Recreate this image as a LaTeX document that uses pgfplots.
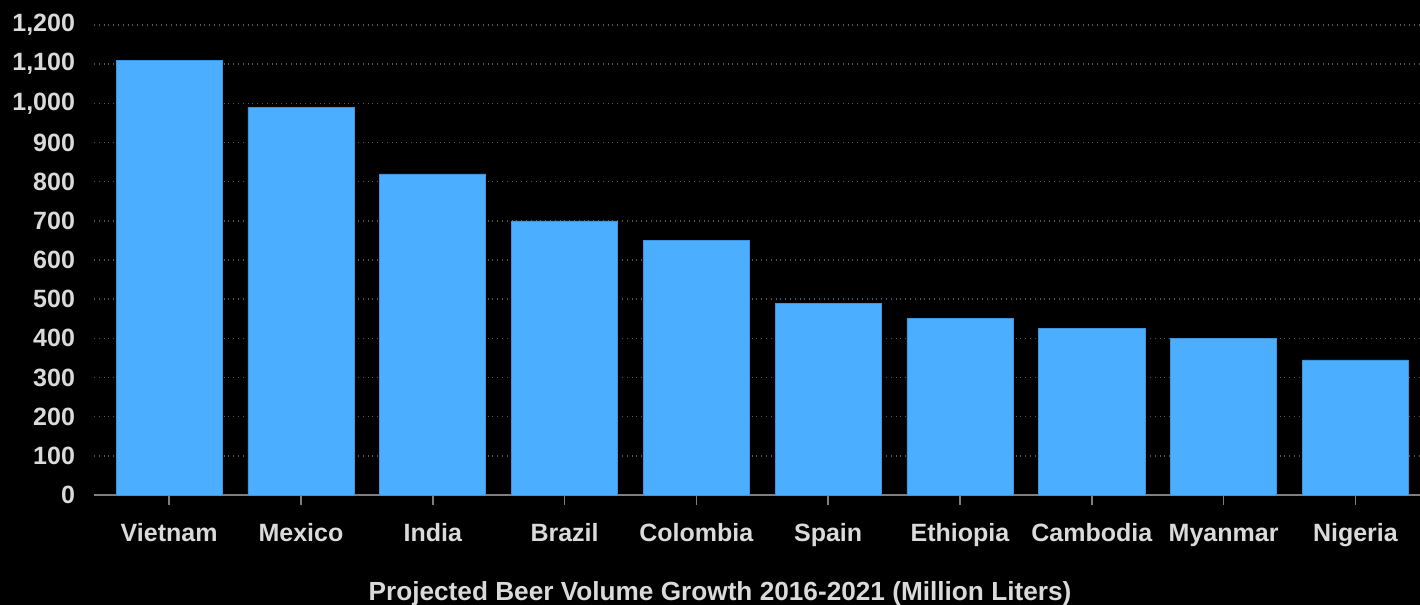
\documentclass[border=0pt]{standalone}
\usepackage{pgfplots}
\pgfplotsset{compat=1.18}
\usepackage{fontspec}
\setmainfont{Liberation Sans}
\definecolor{barblue}{HTML}{4BAEFF}
\definecolor{txt}{HTML}{DADADA}
\definecolor{gridc}{HTML}{555555}
\definecolor{axc}{HTML}{7F7F7F}
\begin{document}
\begin{tikzpicture}
\useasboundingbox (0,0) rectangle (710pt,302.5pt);
\fill[black] (0,0) rectangle (710pt,302.5pt);
\begin{axis}[
  at={(47pt,55pt)}, anchor=south west,
  scale only axis, width=663pt, height=235pt,
  xmin=-0.57, xmax=9.49,
  ymin=0, ymax=1200,
  ytick={0,100,...,1200},
  xtick={0,...,9},
  xticklabels={Vietnam,Mexico,India,Brazil,Colombia,Spain,Ethiopia,Cambodia,Myanmar,Nigeria},
  axis x line*=bottom,
  axis y line*=left,
  x axis line style={draw=axc, line width=1pt, -},
  y axis line style={draw=none},
  ytick style={draw=none},
  xtick style={draw=axc, line width=0.8pt},
  tick align=outside,
  major tick length=5pt,
  ymajorgrids,
  grid style={gridc, dotted, line width=0.8pt},
  tick label style={font=\fontsize{12.5}{15}\selectfont\bfseries, text=txt},
  /pgf/number format/assume math mode=true,
  /pgf/number format/1000 sep={,},
  yticklabel style={xshift=-1pt},
  xticklabel style={yshift=-7.5pt, anchor=north, text height=0.72em, text depth=0.22em},
  clip=false,
]
\addplot[ybar, bar width=53pt, fill=barblue, draw=barblue!85!black, line width=0.3pt] coordinates {
(0,1110) (1,990) (2,820) (3,700) (4,650) (5,490) (6,450) (7,425) (8,400) (9,345)
};
\end{axis}
\node[text=txt, font=\fontsize{13.1}{15}\selectfont\bfseries] at (360pt,5.5pt) {Projected Beer Volume Growth 2016-2021 (Million Liters)};
\end{tikzpicture}
\end{document}
